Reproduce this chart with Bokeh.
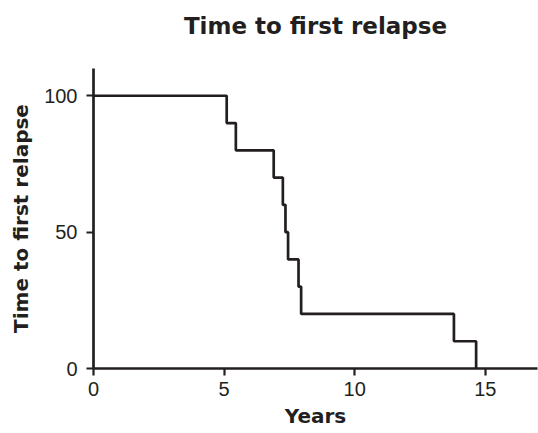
from bokeh.plotting import figure
from bokeh.models import Range1d, FixedTicker, LinearAxis
from bokeh.embed import file_html
from bokeh.resources import INLINE

years = [0, 5.1, 5.45, 6.9, 7.25, 7.35, 7.45, 7.85, 7.95, 13.8, 14.65]
survival = [100, 90, 80, 70, 60, 50, 40, 30, 20, 10, 0]
x_ticks = [0, 5, 10, 15]
y_ticks = [0, 50, 100]
title_text = "Time to first relapse"
x_label = "Years"
y_label = "Time to first relapse"

INK = "#231f20"
LABEL_FONT = "DejaVu Sans"
TICK_FONT = "Liberation Sans"

p = figure(width=538, height=433, output_backend="svg", toolbar_location=None,
           x_range=Range1d(0, 17), y_range=Range1d(0, 110),
           min_border_left=93, min_border_right=1, min_border_top=68, min_border_bottom=65)

p.step(years, survival, mode="after", line_width=2.7, line_color=INK)

p.xgrid.visible = False
p.ygrid.visible = False
p.outline_line_color = None
p.background_fill_color = "white"
p.border_fill_color = "white"

for ax, ticks, lab in ((p.xaxis, x_ticks, x_label), (p.yaxis, y_ticks, y_label)):
    ax.ticker = FixedTicker(ticks=ticks)
    ax.minor_tick_line_color = None
    ax.major_tick_out = 7
    ax.major_tick_in = 0
    ax.major_tick_line_width = 2.2
    ax.major_tick_line_color = INK
    ax.axis_line_width = 2.7
    ax.axis_line_color = INK
    ax.major_label_text_font = TICK_FONT
    ax.major_label_text_font_size = "20px"
    ax.major_label_text_color = INK
    ax.axis_label = lab
    ax.axis_label_text_font = LABEL_FONT
    ax.axis_label_text_font_size = "20px"
    ax.axis_label_text_font_style = "bold"
    ax.axis_label_text_color = INK

p.yaxis.major_label_orientation = "horizontal"
p.yaxis.major_label_standoff = 9
p.xaxis.major_label_standoff = 6
p.xaxis.axis_label_standoff = 5
p.yaxis.axis_label_standoff = 8

# chart title, drawn as the label of a bare axis above the frame
top = LinearAxis(ticker=FixedTicker(ticks=[]), axis_label=title_text,
                 axis_line_color=None, major_tick_line_color=None,
                 minor_tick_line_color=None,
                 axis_label_text_font=LABEL_FONT, axis_label_text_font_size="23px",
                 axis_label_text_font_style="bold", axis_label_text_color=INK,
                 axis_label_standoff=30)
p.add_layout(top, "above")

open("out.html", "w").write(file_html(p, INLINE))
